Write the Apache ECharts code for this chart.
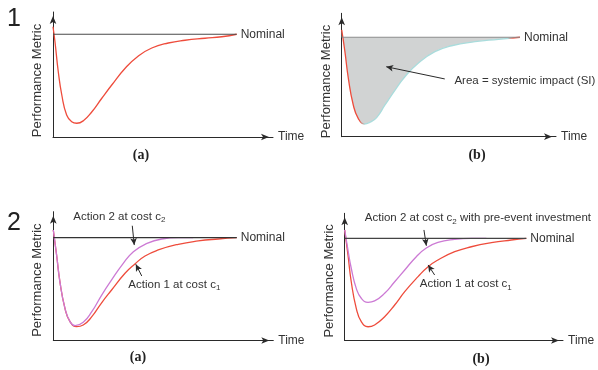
<!DOCTYPE html>
<html>
<head>
<meta charset="utf-8">
<script src="https://cdn.jsdelivr.net/npm/echarts@6/dist/echarts.min.js"></script>
<style>
html, body { margin: 0; padding: 0; background: #fff; }
#main { width: 598px; height: 370px; }
</style>
</head>
<body>
<div id="main"></div>
<script>
// every panel: time 0..100 (arrow tip = 100), metric 0..100 (arrow tip = 100)
var nominal1a = 82.2;
var time1a = [0, 0.9, 2.4, 4.0, 6.2, 8.5, 10.8, 13.8, 17.6, 22.1, 26.7, 32.7, 38.8, 44.9, 52.4, 60.0, 69.1, 76.7, 83.5];
var metric1a = [88.2, 76.2, 52.2, 33.6, 17.6, 12.2, 11.0, 13.0, 20.0, 30.8, 41.6, 54.8, 64.8, 71.2, 75.2, 77.4, 79.0, 80.2, 82.2];

var nominal1b = 80.6;
var time1b = [0, 1.5, 3.1, 5.4, 7.7, 10.5, 13.2, 16.3, 20.2, 24.9, 29.5, 35.7, 43.5, 51.3, 62.2, 73.1, 83.2];
var metric1b = [86.5, 68.9, 47.3, 25.7, 14.9, 10.3, 11.7, 15.5, 25.7, 37.8, 48.6, 59.5, 68.9, 73.7, 77.0, 78.9, 80.6];

var nominal2a = 79.8;
var time2a = [0, 1.5, 3.0, 5.3, 7.6, 10.6, 13.6, 17.5, 21.8, 26.5, 32.6, 37.1, 41.7, 47.7, 56.8, 65.9, 75.0, 83.4];
var action1_2a = [85.8, 66.4, 45.7, 25.0, 14.6, 10.7, 12.0, 18.5, 28.9, 39.2, 52.2, 59.4, 65.6, 70.3, 74.7, 77.3, 78.8, 79.8];
var time2aAct2 = [0, 1.5, 3.0, 5.3, 7.6, 9.9, 13.6, 17.5, 22.0, 26.5, 31.8, 36.4, 41.7, 49.3, 56.8, 63.6];
var action2_2a = [85.8, 66.4, 45.7, 25.0, 14.6, 11.5, 14.1, 22.4, 35.3, 47.0, 59.9, 68.9, 74.7, 78.8, 79.8, 79.8];

var nominal2b = 80.3;
var time2b = [0, 1.5, 3.0, 5.3, 7.6, 10.7, 13.7, 18.3, 22.9, 27.5, 33.6, 38.2, 42.7, 50.4, 58.0, 67.2, 76.3, 83.2];
var action1_2b = [86.9, 67.2, 46.2, 25.3, 14.8, 10.8, 12.2, 18.7, 27.9, 38.4, 50.2, 58.0, 63.3, 69.8, 73.7, 76.9, 79.0, 80.3];
var time2bAct2 = [0, 1.5, 3.0, 5.3, 7.6, 10.7, 13.7, 18.3, 22.9, 27.5, 32.8, 37.4, 42.7, 50.4, 58.0, 64.9];
var action2_2b = [86.9, 71.1, 56.8, 41.0, 33.2, 30.0, 31.1, 37.1, 46.2, 55.4, 65.9, 72.7, 77.1, 79.5, 80.3, 80.3];

var nominalEnd = [83.5, 83.2, 83.4, 83.2];

var FONT = '"Liberation Sans", Arial, sans-serif';
var RED = '#ee4c3c';
var PURPLE = '#cc7ad4';
var INK = '#2a2a2a';

function zip(t, v) {
    return t.map(function (x, i) { return [x, v[i]]; });
}

function xAx(i) {
    return {
        type: 'value', gridIndex: i, min: 0, max: 100,
        name: 'Time', nameLocation: 'end', nameGap: 5,
        nameTextStyle: { fontSize: 12, color: '#333', fontFamily: FONT, padding: [16, 0, 0, 0] },
        axisLine: { lineStyle: { color: INK, width: 1 }, symbol: ['none', 'arrow'], symbolSize: [5, 8], symbolOffset: [0, -4] },
        axisTick: { show: false }, axisLabel: { show: false }, splitLine: { show: false }
    };
}

function yAx(i, shift) {
    return {
        type: 'value', gridIndex: i, min: 0, max: 100,
        name: 'Performance Metric', nameLocation: 'middle', nameGap: 9,
        nameTextStyle: { fontSize: 13, color: '#333', fontFamily: FONT, padding: [0, shift, 0, 0] },
        axisLine: { lineStyle: { color: INK, width: 1 }, symbol: ['none', 'arrow'], symbolSize: [5, 8], symbolOffset: [0, -4] },
        axisTick: { show: false }, axisLabel: { show: false }, splitLine: { show: false }
    };
}

function nominalLine(i, nom, end, color) {
    return {
        type: 'line', xAxisIndex: i, yAxisIndex: i, symbol: 'none',
        data: [[0, nom], [end, nom]],
        lineStyle: { color: color, width: 1.2 },
        endLabel: { show: true, formatter: 'Nominal', distance: 4, fontSize: 12, color: '#333', fontFamily: FONT },
        z: 3
    };
}

function curve(i, data, color) {
    return {
        type: 'line', xAxisIndex: i, yAxisIndex: i, symbol: 'none',
        smooth: 0.5,
        data: data, lineStyle: { color: color, width: 1.3 }
    };
}

function arrows(list) {
    return {
        silent: true, symbol: ['none', 'arrow'], symbolSize: [5, 7],
        lineStyle: { color: INK, width: 1, type: 'solid' },
        label: { show: false },
        data: list.map(function (a) { return [{ coord: a[0] }, { coord: a[1] }]; })
    };
}

var subRich = {
    sub: { fontSize: 8, fontFamily: FONT, color: '#333', verticalAlign: 'bottom', lineHeight: 15 }
};

function notes(list) {
    return {
        silent: true,
        data: list.map(function (n) {
            return {
                coord: n[0], symbol: 'rect', symbolSize: 0,
                label: {
                    show: true, position: 'right', distance: 0, formatter: n[1],
                    fontSize: 11.5, color: '#333', fontFamily: FONT, lineHeight: 15, rich: subRich
                }
            };
        })
    };
}

var myChart = echarts.init(document.getElementById('main'), null, { renderer: 'canvas' });

var lineGrad = new echarts.graphic.LinearGradient(0, 0, 1, 0, [
    { offset: 0, color: RED }, { offset: 0.11, color: RED },
    { offset: 0.14, color: '#a9dcdc' }, { offset: 0.92, color: '#a9dcdc' },
    { offset: 0.95, color: RED }, { offset: 1, color: RED }
]);

var s1a = curve(0, zip(time1a, metric1a), RED);

var s1b = curve(1, zip(time1b, metric1b), lineGrad);
s1b.areaStyle = { color: '#d1d3d3', opacity: 1, origin: nominal1b };
s1b.markLine = arrows([[[48.1, 46.8], [20.8, 56.7]]]);
s1b.markPoint = notes([[[52.6, 45.1], 'Area = systemic impact (SI)']]);

var s2aRed = curve(2, zip(time2a, action1_2a), RED);
var s2aPur = curve(2, zip(time2aAct2, action2_2a), PURPLE);
s2aPur.markLine = arrows([
    [[35.9, 89.1], [36.8, 74.1]],
    [[40.2, 50.1], [37.5, 59.2]]
]);
s2aPur.markPoint = notes([
    [[9.1, 96.1], 'Action 2 at cost c{sub|2}'],
    [[34.1, 43.6], 'Action 1 at cost c{sub|1}']
]);

var s2bRed = curve(3, zip(time2b, action1_2b), RED);
var s2bPur = curve(3, zip(time2bAct2, action2_2b), PURPLE);
s2bPur.markLine = arrows([
    [[36.3, 86.9], [37.4, 74.5]],
    [[41.2, 51.5], [38.2, 59.4]]
]);
s2bPur.markPoint = notes([
    [[9.2, 96.1], 'Action 2 at cost c{sub|2} with pre-event investment'],
    [[34.4, 44.2], 'Action 1 at cost c{sub|1}']
]);

function tag(x, y, text, font, align) {
    return {
        type: 'text', x: x, y: y, silent: true,
        style: { text: text, font: font, fill: '#222', align: align, verticalAlign: 'middle' }
    };
}

var option = {
    backgroundColor: '#fff',
    animation: false,
    grid: [
        { left: 53, top: 12, width: 220, height: 125, outerBoundsMode: 'none' },
        { left: 341.7, top: 13.3, width: 214.3, height: 123.4, outerBoundsMode: 'none' },
        { left: 53.3, top: 211.7, width: 220, height: 128.8, outerBoundsMode: 'none' },
        { left: 344.7, top: 213.3, width: 218.3, height: 127.2, outerBoundsMode: 'none' }
    ],
    xAxis: [xAx(0), xAx(1), xAx(2), xAx(3)],
    yAxis: [yAx(0, 12), yAx(1, 13), yAx(2, 8), yAx(3, 8)],
    series: [
        s1a, nominalLine(0, nominal1a, nominalEnd[0], '#4a4a4a'),
        s1b, nominalLine(1, nominal1b, nominalEnd[1], '#8c8c8c'),
        s2aRed, s2aPur, nominalLine(2, nominal2a, nominalEnd[2], '#333'),
        s2bRed, s2bPur, nominalLine(3, nominal2b, nominalEnd[3], '#444')
    ],
    graphic: [
        tag(7, 19, '1', '25px ' + FONT, 'left'),
        tag(7, 223, '2', '25px ' + FONT, 'left'),
        tag(141, 155, '(a)', 'bold 14px "Liberation Serif", serif', 'center'),
        tag(477, 155, '(b)', 'bold 14px "Liberation Serif", serif', 'center'),
        tag(138, 357, '(a)', 'bold 14px "Liberation Serif", serif', 'center'),
        tag(481, 359, '(b)', 'bold 14px "Liberation Serif", serif', 'center')
    ]
};

myChart.setOption(option);
</script>
</body>
</html>
